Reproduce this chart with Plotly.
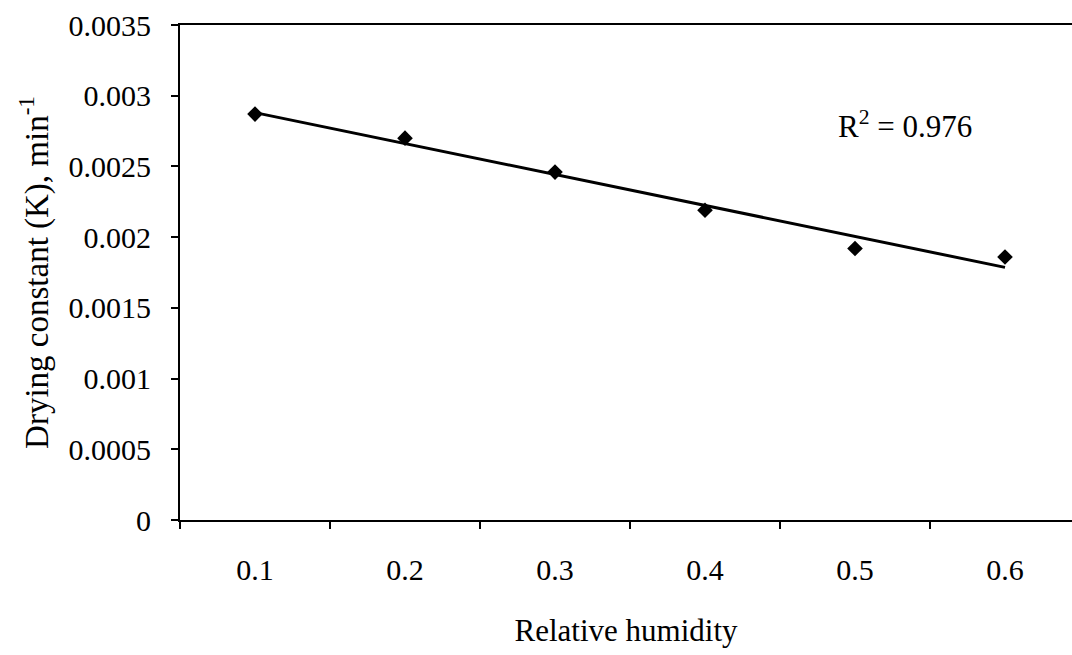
import numpy as np
import plotly.graph_objects as go

# Data
humidity = [0.1, 0.2, 0.3, 0.4, 0.5, 0.6]
drying_k = [0.00287, 0.00270, 0.00246, 0.00219, 0.00192, 0.00186]

x_tick_vals = [0.1, 0.2, 0.3, 0.4, 0.5, 0.6]
x_tick_text = ["0.1", "0.2", "0.3", "0.4", "0.5", "0.6"]
y_tick_vals = [0, 0.0005, 0.001, 0.0015, 0.002, 0.0025, 0.003, 0.0035]
y_tick_text = ["0", "0.0005", "0.001", "0.0015", "0.002", "0.0025", "0.003", "0.0035"]
r2_label = "R<sup>2</sup> = 0.976"

# Linear trendline fitted to the data (as in the original spreadsheet chart)
slope, intercept = np.polyfit(humidity, drying_k, 1)
trend_x = [humidity[0], humidity[-1]]
trend_y = [slope * v + intercept for v in trend_x]

FONT = "Liberation Serif"

fig = go.Figure()
fig.add_trace(go.Scatter(
    x=trend_x, y=trend_y, mode="lines",
    line=dict(color="black", width=3), showlegend=False, hoverinfo="skip"))
fig.add_trace(go.Scatter(
    x=humidity, y=drying_k, mode="markers",
    marker=dict(symbol="diamond", size=12, color="black"),
    showlegend=False))

fig.add_annotation(
    x=0.533, y=0.0028, xref="x", yref="y", text=r2_label, showarrow=False,
    font=dict(family=FONT, size=31, color="black"))

fig.update_layout(
    width=1072, height=655,
    margin=dict(l=180, r=0, t=25, b=135),
    paper_bgcolor="white", plot_bgcolor="white",
    font=dict(family=FONT, size=30, color="black"),
    xaxis=dict(
        range=[0.05, 0.05 + 892 / 1500],
        tickvals=x_tick_vals, ticktext=x_tick_text,
        ticks="", showgrid=False, zeroline=False,
        showline=True, linecolor="black", linewidth=2, mirror=True,
        ticklabelstandoff=22,
        tickfont=dict(family=FONT, size=30),
        minor=dict(tick0=0.05, dtick=0.1, ticks="outside", ticklen=7,
                   tickwidth=2, tickcolor="black", showgrid=False),
        title=dict(text="Relative humidity", standoff=34,
                   font=dict(family=FONT, size=31)),
    ),
    yaxis=dict(
        range=[0, 0.0035],
        tickvals=y_tick_vals, ticktext=y_tick_text,
        ticks="outside", ticklen=7, tickwidth=2, tickcolor="black",
        showgrid=False, zeroline=False,
        showline=True, linecolor="black", linewidth=2,
        ticklabelstandoff=14,
        tickfont=dict(family=FONT, size=30),
        title=dict(text="Drying constant (K), min<sup>-1</sup>", standoff=10,
                   font=dict(family=FONT, size=33)),
    ),
)

fig.write_html("out.html")
